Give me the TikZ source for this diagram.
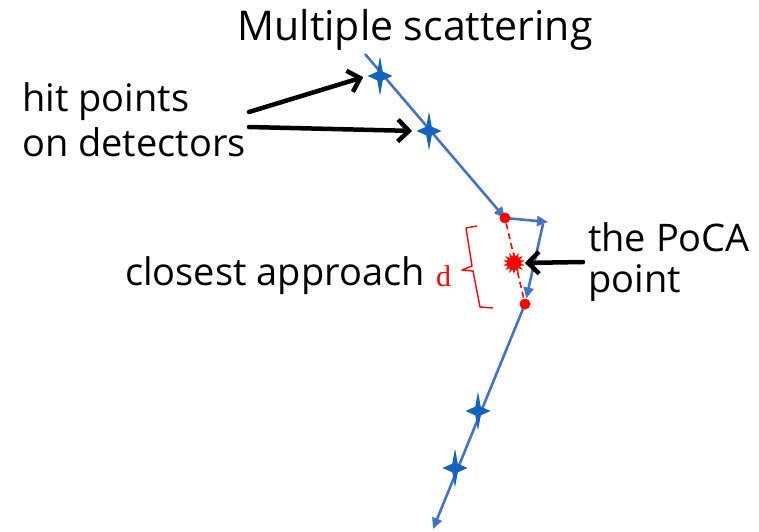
\documentclass[tikz,border=0pt]{standalone}
\usepackage{fontspec}
\setmainfont{Open Sans}
\newfontfamily\dfont{Liberation Serif}
\usetikzlibrary{arrows.meta,shapes.geometric,backgrounds}
\definecolor{trackblue}{RGB}{70,114,196}
\definecolor{hitblue}{RGB}{20,100,190}

\tikzset{
  track/.style={trackblue,line width=2.6pt,-{Triangle[length=11pt,width=10pt]}},
  hit/.style={star,star points=4,star point ratio=3.2,fill=hitblue,inner sep=0pt,
    minimum size=39pt,xscale=0.64},
  dot/.style={circle,fill=red,inner sep=0pt,minimum size=11pt},
  burst/.style={star,star points=14,star point ratio=1.7,fill=red,inner sep=0pt,minimum size=22pt},
  pointer/.style={black,line width=4.5pt,line cap=round,line join=round,
    -{Straight Barb[length=11pt,width=22pt]},shorten >=4pt},
  label/.style={inner sep=0pt,font=\fontsize{38}{45}\selectfont}
}

\begin{document}
\begin{tikzpicture}[x=1pt,y=-1pt]
  \useasboundingbox (0,0) rectangle (759,531);

  % hits and kink points
  \node[hit] (h1) at (380,76) {};
  \node[hit] (h2) at (429,131) {};
  \node[hit] (h3) at (478,411) {};
  \node[hit] (h4) at (455,468) {};
  \node[dot] (p1) at (505,218) {};
  \node[dot] (p2) at (525,304) {};
  \node[burst] (poca) at (514,263) {};
  \coordinate (in) at (365,54);
  \coordinate (kick) at (548,222);
  \coordinate (bend) at (543,224);
  \coordinate (out) at (433,529);

  \begin{scope}[on background layer]
    \draw[track] (in) -- (p1.center);
    \draw[track] (p1.center) -- (kick);
    \draw[track] (bend) -- (p2);
    \draw[track] (p2.center) -- (out);
    \draw[red,line width=1.6pt,dash pattern=on 6pt off 4pt] (p1) -- (p2);
  \end{scope}

  % labels
  \node[label,anchor=base,font=\fontsize{41}{48}\selectfont] (title) at (415,40) {Multiple scattering};
  \node[label,align=left,anchor=west] (hits) at (22,120) {hit points\\on detectors};
  \node[label,anchor=base west] (dist) at (125,285) {closest approach};
  \node[inner sep=0pt,anchor=base west,red,font=\dfont\fontsize{30}{30}\selectfont] (d) at (436,286) {d};
  \node[label,align=left,anchor=west,font=\fontsize{38}{41}\selectfont] (pocatxt) at (588,262) {the PoCA\\point};

  % bracket for d
  \draw[red,line width=1.4pt,line join=round]
    (477,226) -- (466,228) -- (472,266) -- (462,270) -- (473,271) -- (480,307) -- (493,308);

  \draw[pointer] ([xshift=3pt,yshift=8pt]hits.east) -- (h1.west);
  \draw[pointer] ([xshift=3pt,yshift=-7pt]hits.east) -- (h2.west);
  \draw[pointer] ([xshift=-5pt]pocatxt.west) -- (poca.east);
\end{tikzpicture}
\end{document}
